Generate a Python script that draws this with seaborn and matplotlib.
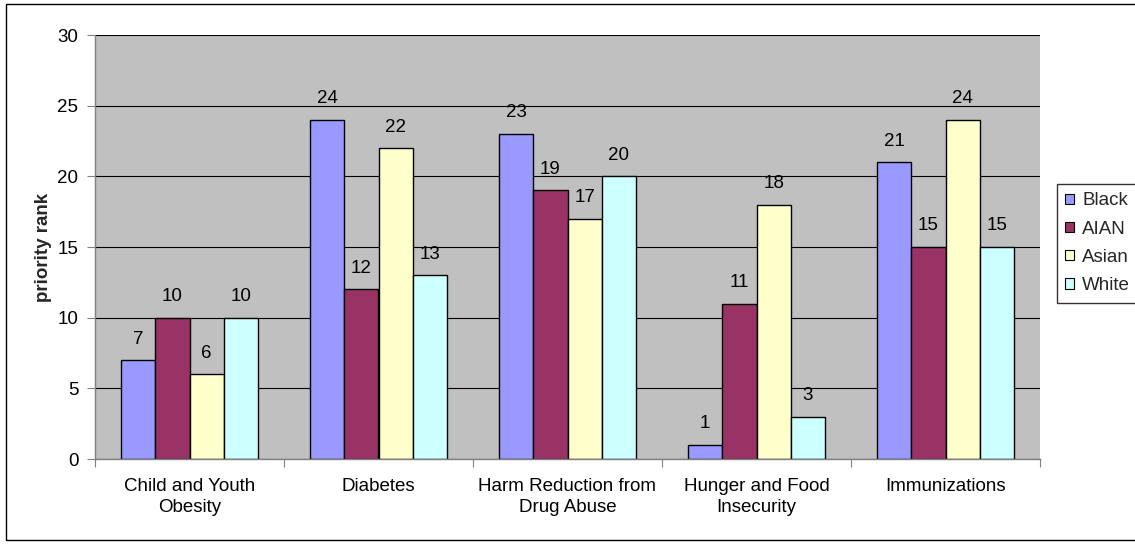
import matplotlib
matplotlib.use("Agg")
import matplotlib.pyplot as plt
import seaborn as sns
import pandas as pd
from matplotlib.patches import Rectangle
from matplotlib.ticker import FixedLocator

categories = ["Child and Youth\nObesity", "Diabetes", "Harm Reduction from\nDrug Abuse",
              "Hunger and Food\nInsecurity", "Immunizations"]
series_names = ["Black", "AIAN", "Asian", "White"]
black = [7, 24, 23, 1, 21]
aian = [10, 12, 19, 11, 15]
asian = [6, 22, 17, 18, 24]
white = [10, 13, 20, 3, 15]
colors = ["#9999FF", "#993366", "#FFFFCC", "#CCFFFF"]
y_ticks = [0, 5, 10, 15, 20, 25, 30]

rows = []
for name, vals in zip(series_names, [black, aian, asian, white]):
    for c, v in zip(categories, vals):
        rows.append({"category": c, "series": name, "value": v})
df = pd.DataFrame(rows)

sns.set_theme(style="white")
plt.rcParams["font.family"] = ["Liberation Sans", "DejaVu Sans"]

FS = 13.5

fig = plt.figure(figsize=(11.35, 5.44), dpi=100)
ax = fig.add_axes([95 / 1135, 1 - 459 / 544, (1040 - 95) / 1135, (459 - 35) / 544])
ax.set_facecolor("#C0C0C0")

sns.barplot(data=df, x="category", y="value", hue="series", order=categories,
            hue_order=series_names, palette=colors, width=0.725, dodge=True,
            edgecolor="black", linewidth=1, saturation=1, ax=ax, legend=True)

for cont in ax.containers:
    ax.bar_label(cont, padding=9, fontsize=FS, color="black")

ax.set_xlim(-0.5, len(categories) - 0.5)
ax.set_ylim(0, 30)
ax.set_yticks(y_ticks)
ax.yaxis.grid(True, color="black", linewidth=0.8)
ax.set_axisbelow(True)
ax.tick_params(axis="y", which="major", left=True, length=6, width=0.8, color="#808080",
               labelsize=FS, pad=6, labelcolor="black")
ax.tick_params(axis="x", which="major", length=0, labelsize=FS, pad=14, labelcolor="black")
for lbl in ax.get_xticklabels():
    lbl.set_linespacing(1.3)
ax.xaxis.set_minor_locator(FixedLocator([i + 0.5 for i in range(-1, len(categories))]))
ax.tick_params(axis="x", which="minor", bottom=True, length=6, width=0.8, color="#808080")
ax.set_xlabel("")
ax.set_ylabel("priority rank", fontsize=13.5, fontweight="bold", labelpad=4)

for s in ["top", "right"]:
    ax.spines[s].set_visible(False)
ax.spines["left"].set_color("#808080")
ax.spines["bottom"].set_color("#808080")
ax.spines["left"].set_linewidth(1)
ax.spines["bottom"].set_linewidth(1)

leg = ax.legend(loc="upper left", bbox_to_anchor=(1057 / 1135, 1 - 184 / 544),
                bbox_transform=fig.transFigure, frameon=True, fontsize=FS,
                fancybox=False, edgecolor="black", handlelength=0.45, handleheight=0.45,
                handletextpad=0.45, borderpad=0.45, labelspacing=0.6, borderaxespad=0)
leg.get_frame().set_linewidth(1)
for h in leg.legend_handles:
    h.set_edgecolor("black")
    h.set_linewidth(0.8)

fig.patches.append(Rectangle((6 / 1135, 4 / 544), 1.2, 1 - 8 / 544, transform=fig.transFigure,
                             fill=False, edgecolor="black", linewidth=1, figure=fig))

fig.savefig("out.png", dpi=100, facecolor="white")
